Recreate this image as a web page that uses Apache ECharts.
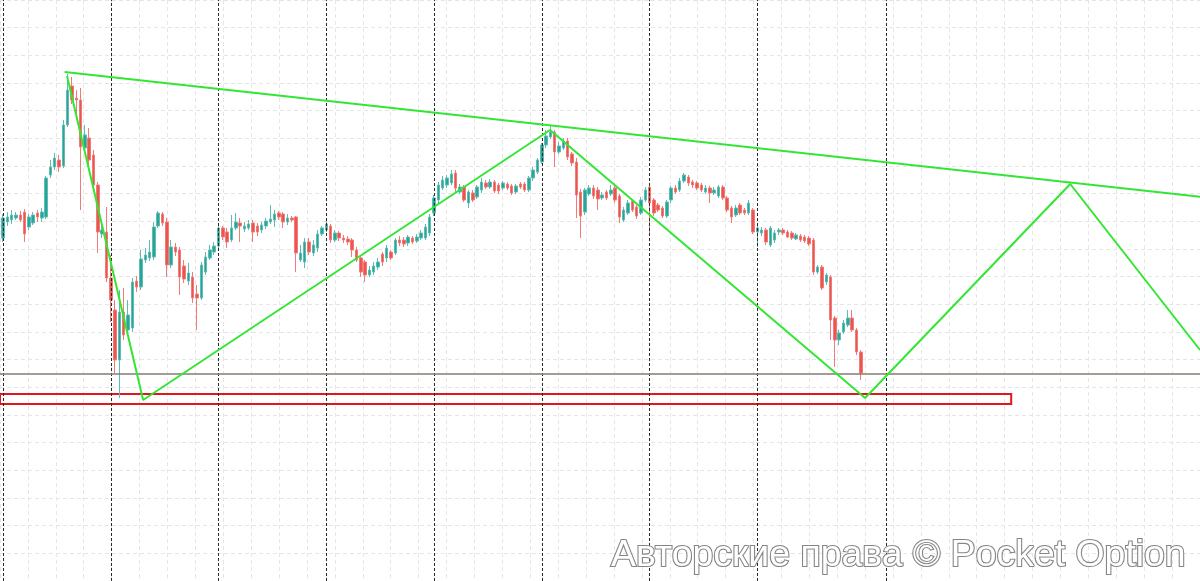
<!DOCTYPE html>
<html><head><meta charset="utf-8">
<script src="https://cdn.jsdelivr.net/npm/echarts@6/dist/echarts.min.js"></script>
<style>html,body{margin:0;padding:0;background:#fff}#c{width:1200px;height:581px}</style>
</head><body><div id="c"></div>
<script>
// candles: [open, close, low, high]
const ohlc = [
[1.1962,1.1982,1.1958,1.1986],[1.1978,1.1983,1.1974,1.1988],[1.1980,1.1985,1.1976,1.1990],[1.1982,1.1985,1.1980,1.1988],
[1.1985,1.1980,1.1978,1.1989],[1.1988,1.1966,1.1958,1.1991],[1.1973,1.1983,1.1970,1.1986],[1.1977,1.1985,1.1975,1.1988],
[1.1987,1.1983,1.1978,1.1990],[1.1982,1.1988,1.1978,1.1992],[1.1983,1.2022,1.1981,1.2024],[1.2025,1.2033,1.2022,1.2040],
[1.2033,1.2042,1.2030,1.2047],[1.2040,1.2033,1.2028,1.2045],[1.2034,1.2075,1.2032,1.2080],[1.2075,1.2110,1.2073,1.2126],
[1.2114,1.2100,1.2096,1.2123],[1.2102,1.2100,1.2083,1.2110],[1.2100,1.2053,1.1990,1.2112],[1.2052,1.2065,1.2050,1.2075],
[1.2062,1.2040,1.2035,1.2072],[1.2045,1.2015,1.2010,1.2050],[1.2015,1.1968,1.1947,1.2018],[1.1966,1.1970,1.1962,1.1975],
[1.1968,1.1922,1.1918,1.1993],[1.1922,1.1900,1.1878,1.1945],[1.1890,1.1840,1.1827,1.1900],[1.1840,1.1888,1.1802,1.1910],
[1.1888,1.1865,1.1860,1.1912],[1.1870,1.1885,1.1865,1.1900],[1.1872,1.1918,1.1868,1.1922],[1.1919,1.1913,1.1908,1.1924],
[1.1913,1.1941,1.1910,1.1950],[1.1940,1.1945,1.1937,1.1952],[1.1942,1.1948,1.1939,1.1960],[1.1943,1.1973,1.1940,1.1978],
[1.1974,1.1987,1.1972,1.1989],[1.1986,1.1977,1.1974,1.1988],[1.1978,1.1935,1.1923,1.1982],[1.1935,1.1953,1.1932,1.1960],
[1.1953,1.1948,1.1944,1.1957],[1.1950,1.1923,1.1905,1.1953],[1.1934,1.1921,1.1917,1.1940],[1.1919,1.1927,1.1915,1.1937],
[1.1923,1.1902,1.1897,1.1928],[1.1906,1.1902,1.1870,1.1915],[1.1902,1.1935,1.1900,1.1938],[1.1928,1.1943,1.1925,1.1948],
[1.1942,1.1950,1.1940,1.1955],[1.1948,1.1954,1.1945,1.1958],[1.1954,1.1972,1.1952,1.1975],[1.1972,1.1963,1.1960,1.1974],
[1.1968,1.1958,1.1952,1.1972],[1.1960,1.1972,1.1958,1.1985],[1.1972,1.1978,1.1970,1.1987],[1.1977,1.1974,1.1958,1.1982],
[1.1971,1.1974,1.1968,1.1978],[1.1972,1.1976,1.1970,1.1980],[1.1977,1.1968,1.1958,1.1980],[1.1974,1.1968,1.1964,1.1977],
[1.1970,1.1975,1.1967,1.1978],[1.1974,1.1979,1.1971,1.1982],[1.1978,1.1981,1.1976,1.1995],[1.1980,1.1986,1.1973,1.1990],
[1.1987,1.1983,1.1980,1.1989],[1.1986,1.1978,1.1972,1.1988],[1.1978,1.1982,1.1975,1.1986],[1.1982,1.1980,1.1978,1.1984],
[1.1983,1.1947,1.1928,1.1984],[1.1940,1.1947,1.1938,1.1955],[1.1938,1.1958,1.1932,1.1962],[1.1958,1.1948,1.1945,1.1962],
[1.1947,1.1955,1.1944,1.1960],[1.1952,1.1966,1.1948,1.1970],[1.1966,1.1972,1.1964,1.1974],[1.1970,1.1976,1.1968,1.1979],
[1.1974,1.1960,1.1957,1.1976],[1.1960,1.1967,1.1958,1.1970],[1.1967,1.1962,1.1959,1.1969],[1.1962,1.1960,1.1957,1.1965],
[1.1961,1.1958,1.1955,1.1964],[1.1960,1.1950,1.1943,1.1962],[1.1950,1.1940,1.1938,1.1953],[1.1942,1.1928,1.1923,1.1945],
[1.1938,1.1925,1.1918,1.1940],[1.1925,1.1930,1.1923,1.1934],[1.1928,1.1934,1.1925,1.1938],[1.1933,1.1938,1.1930,1.1942],
[1.1946,1.1938,1.1934,1.1948],[1.1942,1.1952,1.1938,1.1955],[1.1948,1.1942,1.1940,1.1950],[1.1947,1.1960,1.1945,1.1962],
[1.1960,1.1957,1.1954,1.1964],[1.1960,1.1956,1.1953,1.1963],[1.1957,1.1963,1.1954,1.1965],[1.1962,1.1958,1.1956,1.1964],
[1.1959,1.1963,1.1957,1.1966],[1.1962,1.1967,1.1960,1.1970],[1.1962,1.1973,1.1960,1.1976],[1.1967,1.1983,1.1964,1.1986],
[1.1987,1.2002,1.1984,1.2005],[1.2000,1.2015,1.1997,1.2018],[1.2012,1.2020,1.2010,1.2024],[1.2015,1.2022,1.2012,1.2025],
[1.2017,1.2026,1.2015,1.2030],[1.2027,1.2012,1.2007,1.2030],[1.2008,1.2013,1.2006,1.2016],[1.2013,1.2000,1.1998,1.2015],
[1.1997,1.2008,1.1992,1.2010],[1.2007,1.2000,1.1998,1.2010],[1.2003,1.2013,1.2001,1.2015],[1.2010,1.2018,1.2007,1.2022],
[1.2017,1.2013,1.2011,1.2020],[1.2013,1.2018,1.2011,1.2021],[1.2018,1.2009,1.2007,1.2020],[1.2015,1.2009,1.2006,1.2017],
[1.2012,1.2017,1.2010,1.2019],[1.2016,1.2012,1.2010,1.2018],[1.2014,1.2007,1.2005,1.2016],[1.2008,1.2014,1.2006,1.2016],
[1.2016,1.2013,1.2011,1.2018],[1.2016,1.2010,1.2008,1.2018],[1.2010,1.2022,1.2008,1.2024],[1.2022,1.2030,1.2019,1.2033],
[1.2028,1.2040,1.2026,1.2042],[1.2038,1.2055,1.2036,1.2057],[1.2055,1.2064,1.2052,1.2070],[1.2063,1.2068,1.2061,1.2075],
[1.2068,1.2048,1.2033,1.2070],[1.2048,1.2054,1.2046,1.2058],[1.2052,1.2059,1.2050,1.2062],[1.2059,1.2043,1.2040,1.2062],
[1.2046,1.2037,1.2034,1.2048],[1.2038,1.2005,1.1982,1.2042],[1.2008,1.1984,1.1962,1.2011],[1.1988,1.2010,1.1985,1.2012],
[1.2006,1.2012,1.2004,1.2015],[1.2012,1.2004,1.2001,1.2015],[1.2010,1.2001,1.1990,1.2013],[1.2002,1.2005,1.2000,1.2008],
[1.2008,1.2002,1.2000,1.2010],[1.2006,1.2010,1.2004,1.2015],[1.2012,1.2000,1.1997,1.2014],[1.2004,1.1983,1.1977,1.2006],
[1.1980,1.1990,1.1978,1.1993],[1.1987,1.1997,1.1985,1.2000],[1.1999,1.1990,1.1988,1.2001],[1.1993,1.1984,1.1981,1.1995],
[1.1987,1.2000,1.1985,1.2003],[1.2000,1.2010,1.1998,1.2013],[1.2013,1.1997,1.1965,1.2016],[1.2000,1.1987,1.1984,1.2002],
[1.1995,1.1990,1.1988,1.1997],[1.1992,1.1984,1.1982,1.1994],[1.1984,1.1998,1.1982,1.2000],[1.2000,1.2012,1.1997,1.2014],
[1.2012,1.2008,1.2006,1.2015],[1.2010,1.2019,1.2008,1.2022],[1.2019,1.2025,1.2017,1.2027],[1.2023,1.2017,1.2014,1.2025],
[1.2018,1.2015,1.2012,1.2020],[1.2017,1.2012,1.2010,1.2019],[1.2015,1.2010,1.2008,1.2017],[1.2008,1.2012,1.2006,1.2015],
[1.2012,1.2007,1.1997,1.2014],[1.2007,1.2010,1.2005,1.2013],[1.2004,1.2013,1.2002,1.2015],[1.2013,1.2002,1.2000,1.2015],
[1.2002,1.1990,1.1988,1.2004],[1.1992,1.1983,1.1977,1.1994],[1.1985,1.1992,1.1983,1.1995],[1.1995,1.1987,1.1985,1.1997],
[1.1990,1.1987,1.1985,1.1992],[1.1987,1.1997,1.1985,1.2000],[1.1990,1.1968,1.1966,1.1992],[1.1968,1.1972,1.1953,1.1975],
[1.1967,1.1970,1.1964,1.1973],[1.1970,1.1958,1.1955,1.1972],[1.1955,1.1972,1.1953,1.1974],[1.1960,1.1967,1.1957,1.1970],
[1.1968,1.1970,1.1965,1.1972],[1.1970,1.1967,1.1965,1.1972],[1.1968,1.1963,1.1962,1.1970],[1.1967,1.1962,1.1960,1.1969],
[1.1961,1.1965,1.1960,1.1967],[1.1964,1.1960,1.1958,1.1966],[1.1963,1.1959,1.1957,1.1965],[1.1962,1.1956,1.1954,1.1964],
[1.1960,1.1928,1.1925,1.1962],[1.1928,1.1933,1.1926,1.1935],[1.1933,1.1912,1.1910,1.1935],[1.1918,1.1925,1.1915,1.1927],
[1.1923,1.1880,1.1860,1.1925],[1.1882,1.1860,1.1833,1.1884],[1.1860,1.1867,1.1855,1.1870],[1.1868,1.1877,1.1866,1.1880],
[1.1875,1.1882,1.1873,1.1890],[1.1882,1.1870,1.1868,1.1890],[1.1870,1.1848,1.1845,1.1872],[1.1848,1.1827,1.1820,1.1850]
];
const sessionBreaks = [0, 25, 50, 75, 100, 125, 150, 175, 205];
const resistanceLine = [[14.3, 1.2128], [278, 1.2003]];
const zigzagPoints = [[14.85, 1.2124], [32.5, 1.1800], [126.9, 1.2070], [200, 1.1802], [247.6, 1.2016], [277.7, 1.1850]];
const currentPrice = 1.1826;
const supportZoneX = [-0.7, 233.9];
const supportZoneY = [1.1796, 1.1806];
const xRange = [-0.7, 277.7];
const yRange = [1.1619, 1.2200];
const watermark = 'Авторские права © Pocket Option';

const chart = echarts.init(document.getElementById('c'), null, {renderer: 'canvas'});
const hidden = {axisLine: {show: false}, axisTick: {show: false}, axisLabel: {show: false}};
const lightGrid = {show: true, lineStyle: {color: '#e6e6e6', type: [4, 3], width: 1}};
const green = '#33e633';

chart.setOption({
  animation: false,
  backgroundColor: '#ffffff',
  grid: [
    {left: 0, right: 0, top: 0, bottom: 0},
    {left: -14.73, right: -20.66, top: -20.25, bottom: -2.5}
  ],
  xAxis: [
    Object.assign({type: 'value', gridIndex: 0, min: xRange[0], max: xRange[1], splitLine: {show: false}}, hidden),
    Object.assign({type: 'value', gridIndex: 1, min: 0, max: 43, interval: 1, splitLine: lightGrid, z: 0}, hidden)
  ],
  yAxis: [
    Object.assign({type: 'value', gridIndex: 0, min: yRange[0], max: yRange[1], splitLine: {show: false}}, hidden),
    Object.assign({type: 'value', gridIndex: 1, min: 0, max: 21, interval: 1, splitLine: lightGrid, z: 0}, hidden)
  ],
  series: [
    {
      type: 'candlestick',
      xAxisIndex: 0, yAxisIndex: 0,
      silent: true,
      dimensions: ['t', 'open', 'close', 'lowest', 'highest'],
      encode: {x: 0, y: [1, 2, 3, 4]},
      data: ohlc.map((r, i) => [i].concat(r)),
      barWidth: 3,
      itemStyle: {color: '#26a69a', color0: '#ef5350', borderColor: '#5fbcb3', borderColor0: '#f07c79', borderWidth: 1},
      z: 3,
      markLine: {
        silent: true, symbol: ['none', 'none'], label: {show: false}, animation: false,
        data: sessionBreaks.map(v => [
          {coord: [v, yRange[0]], lineStyle: {color: '#2a2a2a', type: [3, 2], width: 1}},
          {coord: [v, yRange[1]]}
        ]).concat([[
          {coord: [xRange[0], currentPrice], lineStyle: {color: '#857b72', type: 'solid', width: 1.5}},
          {coord: [xRange[1], currentPrice]}
        ]])
      },
      markArea: {
        silent: true, label: {show: false},
        itemStyle: {color: 'rgba(255,255,255,0)', borderColor: '#e3161c', borderWidth: 2},
        data: [[{coord: [supportZoneX[0], supportZoneY[1]]}, {coord: [supportZoneX[1], supportZoneY[0]]}]]
      }
    },
    {
      type: 'line', xAxisIndex: 0, yAxisIndex: 0, silent: true, symbol: 'none', z: 5,
      data: resistanceLine, lineStyle: {color: green, width: 2}
    },
    {
      type: 'line', xAxisIndex: 0, yAxisIndex: 0, silent: true, symbol: 'none', z: 5,
      data: zigzagPoints, lineStyle: {color: green, width: 2}
    }
  ],
  graphic: [{
    type: 'text', z: 100, silent: true,
    style: {
      text: watermark, x: 611, y: 556,
      fill: '#ffffff', stroke: '#858585', lineWidth: 2.2,
      fontSize: 37.4, fontFamily: '"Liberation Sans", Arial, sans-serif',
      align: 'left', verticalAlign: 'middle'
    }
  }]
});
</script>
</body></html>
